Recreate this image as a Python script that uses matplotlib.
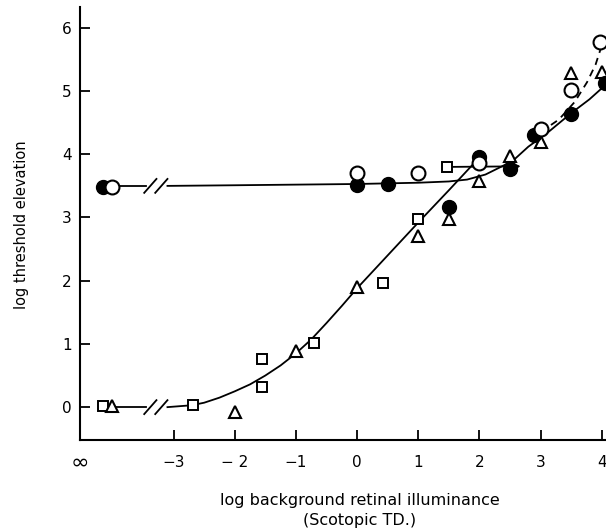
import matplotlib
matplotlib.use("Agg")
import matplotlib.pyplot as plt

# ---- data (x = log background, -4.15 / -4.0 stand for "infinity") ----
filled_x = [-4.15, 0.0, 0.5, 1.5, 2.0, 2.5, 2.9, 3.5, 4.05]
filled_y = [3.49, 3.52, 3.53, 3.17, 3.95, 3.76, 4.30, 4.63, 5.12]

open_x = [-4.0, 0.0, 1.0, 2.0, 3.0, 3.5, 3.97]
open_y = [3.49, 3.70, 3.70, 3.87, 4.40, 5.02, 5.78]

tri_x = [-4.0, -2.0, -1.0, 0.0, 1.0, 1.5, 2.0, 2.5, 3.0, 3.5, 4.0]
tri_y = [0.02, -0.08, 0.89, 1.90, 2.71, 2.97, 3.57, 3.97, 4.19, 5.29, 5.30]

sq_x = [-4.15, -2.68, -1.55, -1.55, -0.70, 0.42, 1.0, 1.47]
sq_y = [0.02, 0.03, 0.76, 0.32, 1.02, 1.97, 2.98, 3.80]

# fitted curves (hand drawn in the original), split at the axis break
upper_a_x = [-4.15, -3.45]
upper_a_y = [3.50, 3.50]
upper_b_x = [-3.10, -2.0, -1.0, 0.0, 1.0, 1.5, 1.8, 2.1, 2.35, 2.55, 2.8, 3.1, 3.5, 3.8, 4.1]
upper_b_y = [3.50, 3.51, 3.52, 3.53, 3.55, 3.57, 3.60, 3.68, 3.80, 3.90, 4.12, 4.33, 4.65, 4.87, 5.13]

lower_a_x = [-4.15, -3.45]
lower_a_y = [0.0, 0.0]
lower_b_x = [-3.10, -2.7, -2.5, -2.25, -2.0, -1.75, -1.5, -1.25, -1.0, -0.75, -0.5, -0.25,
             0.0, 0.5, 1.0, 1.5, 2.0]
lower_b_y = [0.0, 0.03, 0.07, 0.15, 0.25, 0.36, 0.50, 0.66, 0.85, 1.07, 1.33, 1.60,
             1.88, 2.40, 2.92, 3.43, 3.95]

dash_x = [3.0, 3.3, 3.56, 3.76, 3.9, 4.0]
dash_y = [4.35, 4.55, 4.83, 5.14, 5.42, 5.72]

# lower-bound arrow (square at 1.5 pointing right)
arrow_start = (1.47, 3.80)
arrow_end = (2.72, 3.81)

xtick_vals = [-3, -2, -1, 0, 1, 2, 3, 4]
xtick_labels = ["\u22123", "\u2212 2", "\u22121", "0", "1", "2", "3", "4"]
ytick_vals = [0, 1, 2, 3, 4, 5, 6]

break_x = [-3.38, -3.20]

# ---- figure ----
fig = plt.figure(figsize=(6.06, 5.32), dpi=100)
ax = fig.add_axes([80 / 606, 92 / 532, 526 / 606, 433 / 532])

xmin, xmax = -4.53, 4.07
ax.set_xlim(xmin, xmax)
ax.set_ylim(-0.52, 6.33)

lw = 1.3
for cx, cy in [(upper_a_x, upper_a_y), (upper_b_x, upper_b_y),
               (lower_a_x, lower_a_y), (lower_b_x, lower_b_y)]:
    ax.plot(cx, cy, color="black", lw=lw, zorder=2)
ax.plot(dash_x, dash_y, color="black", lw=lw, ls=(0, (4, 3)), zorder=2)

# axis break slashes
for level in [3.5, 0.0]:
    for bx in break_x:
        ax.plot([bx - 0.1, bx + 0.1], [level - 0.11, level + 0.11], color="black", lw=lw, zorder=3)

ax.annotate("", xy=arrow_end, xytext=arrow_start,
            arrowprops=dict(arrowstyle="-|>", color="black", lw=lw, mutation_scale=10),
            zorder=2)

ax.plot(sq_x, sq_y, ls="none", marker="s", ms=7, mfc="white", mec="black", mew=1.4, zorder=4, clip_on=False)
ax.plot(tri_x, tri_y, ls="none", marker="^", ms=9, mfc="white", mec="black", mew=1.5, zorder=4, clip_on=False)
ax.plot(filled_x, filled_y, ls="none", marker="o", ms=10, mfc="black", mec="black", zorder=5, clip_on=False)
ax.plot(open_x, open_y, ls="none", marker="o", ms=10, mfc="white", mec="black", mew=1.5, zorder=6, clip_on=False)

# axes styling
for side in ["top", "right"]:
    ax.spines[side].set_visible(False)
for side in ["left", "bottom"]:
    ax.spines[side].set_linewidth(1.5)

ax.set_xticks([xmin] + xtick_vals)
ax.set_xticklabels(["\u221e"] + xtick_labels, fontsize=11)
ax.xaxis.get_major_ticks()[0].tick1line.set_visible(False)
ax.set_yticks(ytick_vals)
ax.set_yticklabels([str(v) for v in ytick_vals], fontsize=11)
ax.tick_params(direction="in", length=7, width=1.3)
ax.tick_params(axis="x", pad=16)
ax.tick_params(axis="y", pad=6)
for i, lab in enumerate(ax.get_xticklabels()):
    lab.set_va("center")
    if i == 0:
        lab.set_fontsize(16)

fig.text(22 / 606, 1 - 225 / 532, "log threshold elevation", rotation=90,
         ha="center", va="center", fontsize=10.5)
fig.text(360 / 606, 1 - 501 / 532, "log background retinal illuminance",
         ha="center", va="center", fontsize=11.5)
fig.text(360 / 606, 1 - 520 / 532, "(Scotopic TD.)",
         ha="center", va="center", fontsize=11.5)

fig.savefig("out.png", dpi=100)
